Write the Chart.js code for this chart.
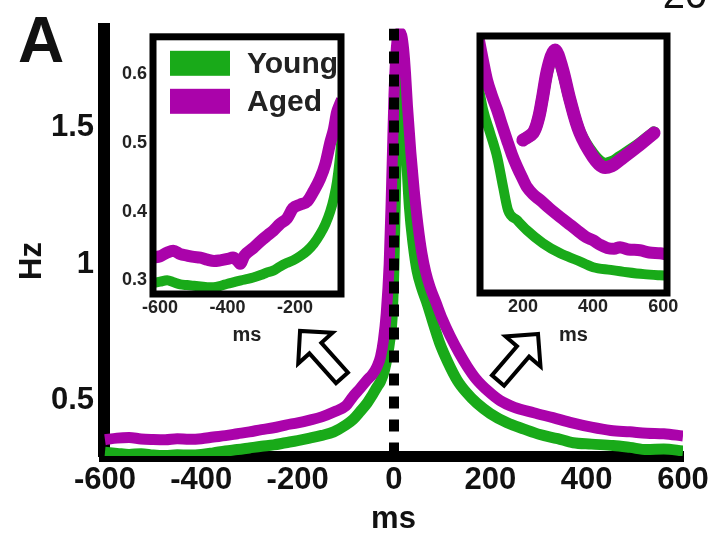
<!DOCTYPE html>
<html>
<head>
<meta charset="utf-8">
<script src="https://cdn.jsdelivr.net/npm/chart.js@4.4.1/dist/chart.umd.min.js"></script>
<style>
  html, body { margin: 0; padding: 0; background: #fff; }
  #wrap { position: relative; width: 718px; height: 538px; overflow: hidden; }
  #wrap canvas { position: absolute; }
</style>
</head>
<body>
<div id="wrap">
  <canvas id="main" width="718" height="538" style="left:0;top:0;width:718px;height:538px"></canvas>
  <canvas id="pre" width="260" height="335" style="left:100px;top:20px;width:260px;height:335px"></canvas>
  <canvas id="post" width="260" height="335" style="left:440px;top:20px;width:260px;height:335px"></canvas>
</div>
<script>
// ---- series names and text ----
const seriesNames = ['Young', 'Aged'];
const panelLetter = 'A';
const pageNumber = '20';
const yTitle = 'Hz';
const xTitle = 'ms';

// ---- main panel: firing rate around the event (ms, Hz) ----
const mainXTicks = [-600, -400, -200, 0, 200, 400, 600];
const mainYTicks = [0.5, 1, 1.5];

const youngTimes = [-600, -575, -550, -525, -500, -475, -450, -425, -400, -375, -350, -325, -300, -275, -250, -225, -200, -175, -150, -125, -100, -85, -70, -56, -45, -35, -28, -20, -14, -8, -4, 0, 4, 8, 12, 16, 20, 26, 32, 40, 48, 58, 69, 82, 95, 112, 131, 150, 172, 200, 235, 270, 303, 340, 372, 410, 455, 490, 525, 560, 600];
const youngRate  = [0.31, 0.306, 0.302, 0.305, 0.300, 0.298, 0.301, 0.300, 0.302, 0.308, 0.315, 0.320, 0.326, 0.332, 0.337, 0.345, 0.353, 0.362, 0.372, 0.385, 0.41, 0.43, 0.46, 0.49, 0.52, 0.55, 0.57, 0.61, 0.66, 0.73, 0.80, 1.00, 1.35, 1.62, 1.77, 1.76, 1.62, 1.40, 1.21, 1.07, 0.975, 0.91, 0.855, 0.78, 0.71, 0.64, 0.575, 0.53, 0.49, 0.452, 0.418, 0.395, 0.375, 0.36, 0.345, 0.34, 0.335, 0.328, 0.32, 0.322, 0.315];

const agedTimes = [-600, -575, -550, -525, -500, -475, -450, -425, -400, -375, -350, -325, -300, -275, -250, -225, -200, -175, -150, -125, -100, -85, -70, -56, -45, -35, -28, -22, -16, -10, -6, -3, 0, 4, 8, 12, 16, 20, 24, 28, 35, 42, 50, 58, 66, 75, 87, 100, 117, 135, 152, 170, 195, 220, 250, 290, 330, 370, 410, 450, 490, 525, 560, 600];
const agedRate  = [0.356, 0.362, 0.364, 0.359, 0.357, 0.356, 0.360, 0.358, 0.360, 0.366, 0.371, 0.378, 0.385, 0.393, 0.400, 0.410, 0.418, 0.428, 0.440, 0.458, 0.48, 0.515, 0.545, 0.575, 0.595, 0.625, 0.66, 0.72, 0.82, 1.00, 1.22, 1.42, 1.62, 1.77, 1.84, 1.85, 1.84, 1.79, 1.70, 1.58, 1.41, 1.27, 1.14, 1.04, 0.97, 0.915, 0.86, 0.80, 0.735, 0.675, 0.625, 0.58, 0.535, 0.50, 0.475, 0.455, 0.437, 0.418, 0.402, 0.39, 0.385, 0.38, 0.378, 0.37];

// event onset marker (ms)
const onsetTime = 0;

// ---- left inset: pre-event baseline (ms, Hz) ----
const preXTicks = [-600, -400, -200];
const preYTicks = [0.3, 0.4, 0.5, 0.6];
const preYoungTimes = [-621, -600, -579, -560, -540, -520, -500, -480, -460, -443, -420, -400, -384, -360, -340, -324, -300, -285, -265, -245, -225, -206, -185, -164, -145, -126, -110, -96, -85, -76, -68, -61];
const preYoungRate  = [0.296, 0.298, 0.300, 0.297, 0.294, 0.293, 0.292, 0.291, 0.290, 0.290, 0.292, 0.295, 0.297, 0.300, 0.302, 0.304, 0.308, 0.311, 0.314, 0.320, 0.325, 0.329, 0.335, 0.343, 0.353, 0.367, 0.382, 0.40, 0.42, 0.443, 0.475, 0.515];
const preAgedTimes = [-621, -600, -580, -561, -540, -520, -500, -481, -460, -440, -422, -400, -384, -370, -363, -350, -324, -300, -280, -265, -245, -224, -206, -185, -164, -145, -126, -110, -96, -85, -76, -68, -61];
const preAgedRate  = [0.333, 0.335, 0.340, 0.343, 0.338, 0.336, 0.334, 0.333, 0.330, 0.328, 0.329, 0.331, 0.333, 0.328, 0.324, 0.336, 0.347, 0.358, 0.366, 0.372, 0.382, 0.39, 0.405, 0.41, 0.415, 0.43, 0.448, 0.47, 0.50, 0.52, 0.544, 0.555, 0.563];

// ---- right inset: post-event decay (ms, Hz) ----
const postXTicks = [200, 400, 600];
const postYoungTimes = [71, 86, 106, 126, 143, 157, 183, 211, 257, 306, 354, 400, 450, 497, 545, 591, 611];
const postYoungRate  = [0.81, 0.74, 0.68, 0.618, 0.54, 0.48, 0.454, 0.428, 0.394, 0.368, 0.35, 0.332, 0.325, 0.319, 0.314, 0.311, 0.31];
const postAgedTimes = [71, 85, 97, 110, 126, 140, 154, 168, 183, 197, 211, 230, 249, 275, 306, 330, 354, 380, 400, 420, 440, 460, 477, 500, 534, 560, 591, 611];
const postAgedRate  = [0.935, 0.87, 0.818, 0.78, 0.74, 0.70, 0.662, 0.625, 0.592, 0.565, 0.54, 0.52, 0.506, 0.485, 0.462, 0.445, 0.428, 0.41, 0.402, 0.39, 0.382, 0.38, 0.384, 0.378, 0.376, 0.37, 0.368, 0.365];

// ---- mean spike waveform (ms from peak, normalised amplitude) ----
const waveTimes = [-1.07, -0.73, -0.55, -0.43, -0.23, 0, 0.23, 0.5, 0.83, 1.27, 1.6, 1.9, 2.17, 2.73, 3.3];
const waveYoung = [0.595, 0.623, 0.68, 0.75, 0.875, 0.94, 0.875, 0.75, 0.625, 0.54, 0.505, 0.51, 0.53, 0.573, 0.625];
const waveAged  = [0.595, 0.623, 0.68, 0.751, 0.879, 0.946, 0.879, 0.751, 0.623, 0.529, 0.49, 0.495, 0.518, 0.568, 0.623];

// ---- styling ----
const FONT = '"Liberation Sans", Arial, Helvetica, sans-serif';
const GREEN = '#19aa19';
const MAGENTA = '#aa03aa';
const INK = '#111';

const pts = (xs, ys) => xs.map((x, i) => ({ x: x, y: ys[i] }));
const tickSetter = list => (scale) => { scale.ticks = list.map(v => ({ value: v })); };
const bold = size => ({ family: FONT, size: size, weight: 'bold' });

// hollow block arrow from tip towards tail
function drawArrow(ctx, tx, ty, ux, uy) {
  const L = Math.hypot(ux - tx, uy - ty);
  const dx = (ux - tx) / L, dy = (uy - ty) / L;
  const nx = -dy, ny = dx;
  const hl = 23, hw = 23, sw = 8;
  const p = (a, b) => [tx + dx * a + nx * b, ty + dy * a + ny * b];
  const poly = [p(0, 0), p(hl, hw), p(hl, sw), p(L, sw), p(L, -sw), p(hl, -sw), p(hl, -hw)];
  ctx.beginPath();
  poly.forEach((q, i) => i ? ctx.lineTo(q[0], q[1]) : ctx.moveTo(q[0], q[1]));
  ctx.closePath();
  ctx.fillStyle = '#fff';
  ctx.fill();
  ctx.lineWidth = 4;
  ctx.lineJoin = 'miter';
  ctx.strokeStyle = '#000';
  ctx.stroke();
}

// arrows pointing from the main trace to each inset (in ms / Hz)
const insetArrows = [
  { tip: [-195, 0.755], tail: [-108, 0.583] },
  { tip: [299, 0.744], tail: [216, 0.573] }
];

const mainDecor = {
  id: 'mainDecor',
  afterDraw(chart) {
    const ctx = chart.ctx, xs = chart.scales.x, ys = chart.scales.y;
    ctx.save();
    ctx.fillStyle = INK;
    ctx.textAlign = 'left';
    ctx.textBaseline = 'alphabetic';
    ctx.font = 'bold 64px ' + FONT;
    ctx.fillText(panelLetter, 18, 62);
    ctx.font = '40px ' + FONT;
    ctx.textAlign = 'center';
    ctx.fillText(pageNumber, 685, 8);
    ctx.translate(32, 261);
    ctx.rotate(-Math.PI / 2);
    ctx.font = 'bold 31px ' + FONT;
    ctx.textBaseline = 'middle';
    ctx.fillText(yTitle, 0, 0);
    ctx.restore();
    ctx.save();
    insetArrows.forEach(a => drawArrow(ctx,
      xs.getPixelForValue(a.tip[0]), ys.getPixelForValue(a.tip[1]),
      xs.getPixelForValue(a.tail[0]), ys.getPixelForValue(a.tail[1])));
    ctx.restore();
  }
};

const insetFrame = {
  id: 'insetFrame',
  beforeDraw(chart) {
    const a = chart.chartArea, ctx = chart.ctx;
    ctx.save();
    ctx.fillStyle = '#fff';
    ctx.fillRect(a.left, a.top, a.right - a.left, a.bottom - a.top);
    ctx.restore();
  },
  afterDatasetsDraw(chart, args, opts) {
    const a = chart.chartArea, ctx = chart.ctx;
    ctx.save();
    if (opts.legend) {
      ctx.beginPath();
      ctx.rect(a.left, a.top, a.right - a.left, a.bottom - a.top);
      ctx.clip();
      const rows = [
        { ds: chart.data.datasets[0], y: 14 },
        { ds: chart.data.datasets[1], y: 52 }
      ];
      rows.forEach(r => {
        ctx.fillStyle = r.ds.borderColor;
        ctx.fillRect(a.left + 17, a.top + r.y, 60, 25);
        ctx.fillStyle = '#222';
        ctx.font = 'bold 30px ' + FONT;
        ctx.textAlign = 'left';
        ctx.textBaseline = 'middle';
        ctx.fillText(r.ds.label, a.left + 94, a.top + r.y + 14);
      });
    }
    ctx.restore();
    ctx.save();
    ctx.lineWidth = 7;
    ctx.strokeStyle = '#000';
    ctx.strokeRect(a.left, a.top, a.right - a.left, a.bottom - a.top);
    ctx.restore();
  }
};

const lineDs = (label, data, color, width, order, extra) => Object.assign({
  label: label, data: data, borderColor: color, backgroundColor: color,
  borderWidth: width, pointRadius: 0, fill: false,
  cubicInterpolationMode: 'monotone', order: order
}, extra || {});

// ---- main chart ----
const mainYMin = 0.2964, mainYMax = 1.864;
new Chart(document.getElementById('main'), {
  type: 'line',
  data: {
    datasets: [
      lineDs(seriesNames[0], pts(youngTimes, youngRate), GREEN, 11, 2),
      lineDs(seriesNames[1], pts(agedTimes, agedRate), MAGENTA, 11, 1),
      lineDs('onset', [{ x: onsetTime, y: mainYMax }, { x: onsetTime, y: mainYMin }], '#000', 10, 0,
        { borderDash: [12, 11], borderCapStyle: 'butt', cubicInterpolationMode: 'default', tension: 0 })
    ]
  },
  options: {
    responsive: false, animation: false, events: [],
    layout: { padding: { top: 25, right: 35, left: 0, bottom: 0 } },
    plugins: { legend: { display: false }, tooltip: { enabled: false } },
    scales: {
      x: {
        type: 'linear', min: -602, max: 600,
        afterFit(s) { s.height = 82; },
        afterBuildTicks: tickSetter(mainXTicks),
        grid: { display: false, drawTicks: false },
        border: { display: true, color: '#000', width: 11 },
        ticks: { font: bold(31), color: INK, padding: 6, autoSkip: false, maxRotation: 0, callback: v => String(v) },
        title: { display: true, text: xTitle, font: bold(31), color: INK, padding: { top: 0, bottom: 0 } }
      },
      y: {
        type: 'linear', min: mainYMin, max: mainYMax,
        afterFit(s) { s.width = 104; },
        afterBuildTicks: tickSetter(mainYTicks),
        grid: { display: false, drawTicks: false },
        border: { display: true, color: '#000', width: 12 },
        ticks: { font: bold(31), color: INK, padding: 10, autoSkip: false, callback: v => String(v) }
      }
    }
  },
  plugins: [mainDecor]
});

// ---- left inset ----
new Chart(document.getElementById('pre'), {
  type: 'line',
  data: {
    datasets: [
      lineDs(seriesNames[0], pts(preYoungTimes, preYoungRate), GREEN, 10, 2, { clip: 0 }),
      lineDs(seriesNames[1], pts(preAgedTimes, preAgedRate), MAGENTA, 12, 1, { clip: 0 })
    ]
  },
  options: {
    responsive: false, animation: false, events: [],
    layout: { padding: { top: 13, right: 19, left: 0, bottom: 0 } },
    plugins: { legend: { display: false }, tooltip: { enabled: false }, insetFrame: { legend: true } },
    scales: {
      x: {
        type: 'linear', min: -621, max: -64,
        afterFit(s) { s.height = 61; },
        afterBuildTicks: tickSetter(preXTicks),
        grid: { display: false, drawTicks: false },
        border: { display: false },
        ticks: { font: bold(18), color: '#222', padding: 3, autoSkip: false, maxRotation: 0, callback: v => String(v) },
        title: { display: true, text: xTitle, font: bold(20), color: '#222', padding: { top: 0, bottom: 8 } }
      },
      y: {
        type: 'linear', min: 0.28, max: 0.6545,
        afterFit(s) { s.width = 53; },
        afterBuildTicks: tickSetter(preYTicks),
        grid: { display: false, drawTicks: false },
        border: { display: false },
        ticks: { font: bold(18), color: '#222', padding: 6, autoSkip: false, callback: v => v.toFixed(1) }
      }
    }
  },
  plugins: [insetFrame]
});

// ---- right inset ----
new Chart(document.getElementById('post'), {
  type: 'line',
  data: {
    datasets: [
      lineDs(seriesNames[0], pts(postYoungTimes, postYoungRate), GREEN, 10, 4, { clip: 0 }),
      lineDs(seriesNames[1], pts(postAgedTimes, postAgedRate), MAGENTA, 12, 3, { clip: 0 }),
      lineDs(seriesNames[0] + ' waveform', pts(waveTimes, waveYoung), GREEN, 12, 2,
        { clip: 0, xAxisID: 'x2', yAxisID: 'y2', borderCapStyle: 'round', cubicInterpolationMode: 'default', tension: 0.35 }),
      lineDs(seriesNames[1] + ' waveform', pts(waveTimes, waveAged), MAGENTA, 13, 1,
        { clip: 0, xAxisID: 'x2', yAxisID: 'y2', borderCapStyle: 'round', cubicInterpolationMode: 'default', tension: 0.35 })
    ]
  },
  options: {
    responsive: false, animation: false, events: [],
    layout: { padding: { top: 16, right: 33, left: 40, bottom: 0 } },
    plugins: { legend: { display: false }, tooltip: { enabled: false }, insetFrame: { legend: false } },
    scales: {
      x: {
        type: 'linear', min: 77, max: 611,
        afterFit(s) { s.height = 62; },
        afterBuildTicks: tickSetter(postXTicks),
        grid: { display: false, drawTicks: false },
        border: { display: false },
        ticks: { font: bold(18), color: '#222', padding: 3, autoSkip: false, maxRotation: 0, callback: v => String(v) },
        title: { display: true, text: xTitle, font: bold(20), color: '#222', padding: { top: 0, bottom: 8 } }
      },
      y: { type: 'linear', display: false, min: 0.265, max: 0.932 },
      x2: { type: 'linear', display: false, position: 'bottom', min: -2.5, max: 3.733 },
      y2: { type: 'linear', display: false, position: 'left', min: 0, max: 1 }
    }
  },
  plugins: [insetFrame]
});
</script>
</body>
</html>
